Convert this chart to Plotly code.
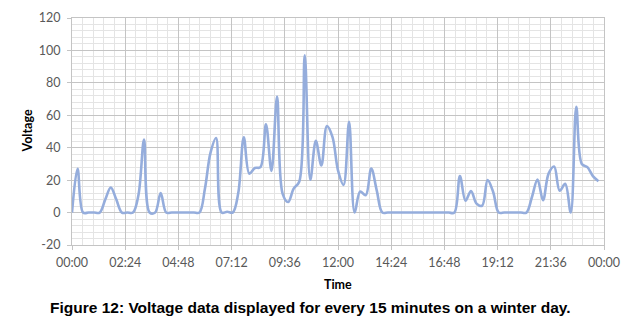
import pandas as pd
import plotly.graph_objects as go

# Voltage every 15 minutes (00:00 .. 23:45)
voltage = [
    0, 27, 0, 0, 0, 0, 8, 15.5, 8, 0,
    0, 0, 11, 45, 0, 0, 12, 0, 0, 0,
    0, 0, 0, 0, 15, 37, 46, 0, 0.5, 0,
    12, 46.5, 24, 27.5, 28, 54.5, 25.7, 71.5, 11.7, 6.5,
    14.8, 19, 97, 20.2, 44.2, 29, 53.3, 46.7, 26, 17,
    56, 0, 13, 10.7, 27.2, 13.5, 0, 0, 0, 0,
    0, 0, 0, 0, 0, 0, 0, 0, 0, 0,
    22.6, 7.3, 13.3, 5.5, 4.2, 20, 12.7, 0, 0, 0,
    0, 0, 0, 9.6, 20.4, 7.6, 24, 28.4, 13.5, 17.7,
    0, 65.2, 30, 28, 22.5, 19.3,
]
times = pd.date_range("2024-01-01 00:00", periods=len(voltage), freq="15min")

y_ticks = [-20, 0, 20, 40, 60, 80, 100, 120]
y_tick_labels = ["-20", "0", "20", "40", "60", "80", "100", "120"]
x_tick_labels = ["00:00", "02:24", "04:48", "07:12", "09:36", "12:00",
                 "14:24", "16:48", "19:12", "21:36", "00:00"]

title_x = "Time"
title_y = "Voltage"
caption = "Figure 12: Voltage data displayed for every 15 minutes on a winter day."

MAJOR = "#C4C4C4"
MINOR = "#E4E4E4"
TICKFONT = dict(family="Lato, Open Sans, sans-serif", size=12.5, color="#595959")

fig = go.Figure()
fig.add_trace(go.Scatter(
    x=times, y=voltage, mode="lines",
    line=dict(color="#95ADDC", width=2.6, shape="spline", smoothing=1),
    hoverinfo="skip",
))

tick_dates = pd.date_range("2024-01-01 00:00", periods=len(x_tick_labels), freq="144min")

fig.update_xaxes(
    range=["2024-01-01 00:00", "2024-01-02 00:00"],
    tickvals=tick_dates, ticktext=x_tick_labels,
    showgrid=True, gridcolor=MAJOR, gridwidth=1,
    ticks="outside", ticklen=4, tickcolor=MAJOR,
    showline=True, linecolor=MAJOR, mirror=True,
    zeroline=False, automargin=False,
    tickfont=TICKFONT, ticklabelstandoff=2,
    minor=dict(dtick=1728000, tick0="2024-01-01", showgrid=True,
               gridcolor=MINOR, gridwidth=1, ticks=""),
)
fig.update_yaxes(
    range=[-20, 120], tickvals=y_ticks, ticktext=y_tick_labels,
    showgrid=True, gridcolor=MAJOR, gridwidth=1,
    ticks="outside", ticklen=4, tickcolor=MAJOR,
    showline=True, linecolor=MAJOR, mirror=True,
    zeroline=False, automargin=False,
    tickfont=TICKFONT, ticklabelstandoff=4,
    minor=dict(dtick=4, tick0=0, showgrid=True, gridcolor=MINOR,
               gridwidth=1, ticks=""),
)

fig.add_annotation(text=f"<b>{title_x}</b>", xref="paper", yref="paper",
                   x=0.5, y=-(284 - 245) / 227, yanchor="middle", showarrow=False,
                   font=dict(family="Lato, Open Sans, sans-serif", size=12.5, color="#000000"))
fig.add_annotation(text=f"<b>{title_y}</b>", xref="paper", yref="paper",
                   x=-(72 - 27) / 532, y=0.5, xanchor="center", yanchor="middle",
                   textangle=-90, showarrow=False,
                   font=dict(family="Lato, Open Sans, sans-serif", size=12.5, color="#000000"))
fig.add_annotation(text=f"<b>{caption}</b>", xref="paper", yref="paper",
                   x=(310 - 72) / 532, y=-(307 - 245) / 227, xanchor="center",
                   yanchor="middle", showarrow=False,
                   font=dict(family="Liberation Sans, Arial, sans-serif", size=15.5, color="#000000"))

fig.update_layout(
    width=632, height=329,
    margin=dict(l=72, r=28, t=18, b=84, autoexpand=False),
    paper_bgcolor="white", plot_bgcolor="white",
    showlegend=False,
)

fig.write_html("out.html", config={"displayModeBar": False},
               post_script="document.body.style.margin='0';document.body.style.padding='0';")
